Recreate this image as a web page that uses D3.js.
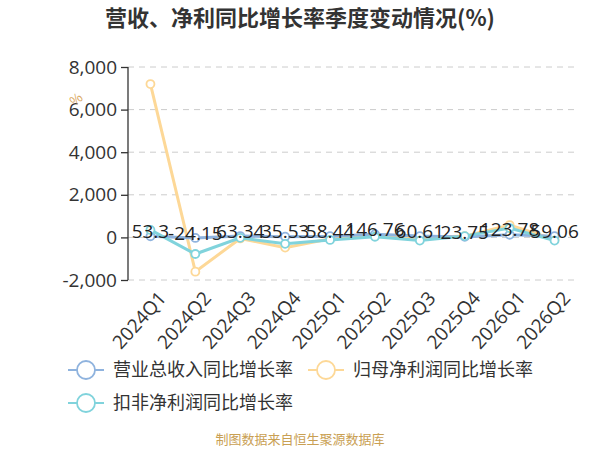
<!DOCTYPE html>
<html>
<head>
<meta charset="utf-8">
<script src="https://cdn.jsdelivr.net/npm/d3@7"></script>
<style>
  body { margin: 0; background: #fff; }
  text { font-family: "Noto Sans CJK SC", "Noto Sans", sans-serif; }
</style>
</head>
<body>
<div class="chart"></div>
<script>
const quarters = ["2024Q1", "2024Q2", "2024Q3", "2024Q4", "2025Q1", "2025Q2", "2025Q3", "2025Q4", "2026Q1", "2026Q2"]
const revenueGrowth = [53.3, -24.15, 63.34, 35.53, 58.44, 146.76, 60.61, 23.75, 123.78, 59.06]
const profitGrowth = [7200, -1610, -50, -480, -60, 100, -20, 60, 580, -100]
const deductedGrowth = [350, -780, -20, -300, -120, 30, -150, 60, 440, -150]
const yTicks = [-2000, 0, 2000, 4000, 6000, 8000]
const seriesNames = ["营业总收入同比增长率", "归母净利润同比增长率", "扣非净利润同比增长率"]

const colors = ["#8fb3de", "#fdd897", "#80d3dc"]

const W = 600, H = 450
const margin = { top: 67, right: 23, bottom: 170, left: 128 }
const width = W - margin.left - margin.right
const height = H - margin.top - margin.bottom

const numFont = "'Open Sans', 'Noto Sans', sans-serif"

const svg = d3.select(".chart")
    .append("svg")
    .attr("width", W)
    .attr("height", H)

// title
svg.append("text")
    .attr("x", 300)
    .attr("y", 26)
    .attr("text-anchor", "middle")
    .style("font-size", "22px")
    .style("font-weight", "bold")
    .style("fill", "#333")
    .text("营收、净利同比增长率季度变动情况(%)")

const g = svg.append("g")
    .attr("transform", `translate(${margin.left},${margin.top})`)

const x = d3.scalePoint()
    .domain(quarters)
    .range([0, width])
    .padding(0.5)

const y = d3.scaleLinear()
    .domain([-2000, 8000])
    .range([height, 0])

// grid
g.selectAll("line.grid")
    .data(yTicks)
    .enter().append("line")
    .attr("class", "grid")
    .attr("x1", 0)
    .attr("x2", width)
    .attr("y1", d => y(d))
    .attr("y2", d => y(d))
    .style("stroke", "#ccc")
    .style("stroke-width", 1)
    .style("stroke-dasharray", "6 5")

// y axis
const yAxis = d3.axisLeft(y)
    .tickValues(yTicks)
    .tickSize(7)
    .tickPadding(4)
    .tickFormat(d => d3.format(",")(d).replace("\u2212", "-"))

g.append("g")
    .attr("class", "y axis")
    .call(yAxis)
    .call(a => a.select(".domain").attr("d", `M0,${y(-2000)}V${y(8000)}`).style("stroke", "#333").style("stroke-width", 1.3))
    .call(a => a.selectAll(".tick line").style("stroke", "#333").style("stroke-width", 1.3))
    .selectAll("text")
    .style("font-size", "19px")
    .style("fill", "#333")
    .style("font-family", numFont)

// unit label
svg.append("text")
    .attr("transform", "translate(79,103) rotate(-40)")
    .attr("text-anchor", "middle")
    .style("font-size", "13px")
    .style("fill", "#d9a55a")
    .text("%")

// x labels
g.selectAll(".xlabel")
    .data(quarters)
    .enter().append("text")
    .attr("class", "xlabel")
    .attr("text-anchor", "end")
    .attr("transform", d => `translate(${x(d) + 7},${height + 10}) rotate(-48)`)
    .attr("dy", "0.7em")
    .style("font-size", "19px")
    .style("fill", "#333")
    .style("font-family", numFont)
    .text(d => d)

const line = d3.line()
    .x((d, i) => x(quarters[i]))
    .y(d => y(d))

const allSeries = [revenueGrowth, profitGrowth, deductedGrowth]
const drawOrder = [1, 0, 2]

drawOrder.forEach(function (k) {
    const data = allSeries[k]
    g.append("path")
        .datum(data)
        .attr("d", line)
        .style("fill", "none")
        .style("stroke", colors[k])
        .style("stroke-width", 3)
    g.selectAll(".pt" + k)
        .data(data)
        .enter().append("circle")
        .attr("class", "pt" + k)
        .attr("cx", (d, i) => x(quarters[i]))
        .attr("cy", d => y(d))
        .attr("r", 4)
        .style("fill", "#fff")
        .style("stroke", colors[k])
        .style("stroke-width", 1.8)
})

// value labels for revenue series
g.selectAll(".vlabel")
    .data(revenueGrowth)
    .enter().append("text")
    .attr("class", "vlabel")
    .attr("x", (d, i) => x(quarters[i]))
    .attr("y", d => y(d) - 5)
    .attr("dy", "0.35em")
    .attr("text-anchor", "middle")
    .style("font-size", "19px")
    .style("fill", "#222")
    .style("font-family", numFont)
    .text(d => d)

// legend
const legendPos = [[68, 370], [308, 370], [68, 403]]
seriesNames.forEach(function (name, k) {
    const lg = svg.append("g")
        .attr("transform", `translate(${legendPos[k][0]},${legendPos[k][1]})`)
    lg.append("line")
        .attr("x1", 0).attr("x2", 36)
        .attr("y1", 0).attr("y2", 0)
        .style("stroke", colors[k])
        .style("stroke-width", 2)
    lg.append("circle")
        .attr("cx", 18).attr("cy", 0).attr("r", 9)
        .style("fill", "#fff")
        .style("stroke", colors[k])
        .style("stroke-width", 1.8)
    lg.append("text")
        .attr("x", 45)
        .attr("y", 0)
        .attr("dy", "0.35em")
        .style("font-size", "18px")
        .style("fill", "#333")
        .text(name)
})

// source
svg.append("text")
    .attr("x", 300)
    .attr("y", 444)
    .attr("text-anchor", "middle")
    .style("font-size", "13px")
    .style("fill", "#c9a053")
    .text("制图数据来自恒生聚源数据库")
</script>
</body>
</html>
